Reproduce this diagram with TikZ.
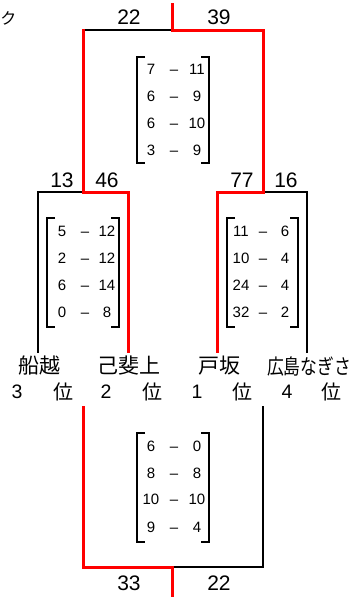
\documentclass[tikz,border=0pt]{standalone}
\usepackage{fontspec}
\setmainfont{Liberation Sans}
\newfontfamily\jp{Noto Sans CJK JP}
\begin{document}
\begin{tikzpicture}[x=1pt,y=-1pt,
  blk/.style={draw=black,line width=1.5pt},
  redl/.style={draw=red,line width=3pt},
  brk/.style={draw=black,line width=1.8pt},
  score/.style={inner sep=0pt,font=\fontsize{21}{21}\selectfont},
  cell/.style={inner sep=0pt,font=\fontsize{15}{15}\selectfont},
  tname/.style={inner sep=0pt,font=\jp\fontsize{21}{21}\selectfont},
  rankn/.style={inner sep=0pt,font=\fontsize{19.5}{19.5}\selectfont},
  rankj/.style={inner sep=0pt,font=\jp\fontsize{20}{20}\selectfont}]
\useasboundingbox (0,0) rectangle (352,597);
% coordinates of the bracket tree
\coordinate (T0) at (172,3);
\coordinate (T) at (172,30);
\coordinate (TL) at (83,30);
\coordinate (TR) at (263,30);
\coordinate (L) at (83,192);
\coordinate (Ll) at (38,192);
\coordinate (Lr) at (128,192);
\coordinate (R) at (263,192);
\coordinate (Rl) at (217,192);
\coordinate (Rr) at (307,192);
\coordinate (A) at (38,353);
\coordinate (B) at (128,353);
\coordinate (C) at (217,353);
\coordinate (D) at (307,353);
\coordinate (BA) at (83,406);
\coordinate (BB) at (263,406);
\coordinate (BL) at (83,567);
\coordinate (BM) at (172,567);
\coordinate (BR) at (263,567);
\coordinate (B0) at (172,597);
% black lines
\draw[blk] (T) -- (TL);
\draw[blk] (A) -- (Ll) -- (L);
\draw[blk] (D) -- (Rr) -- (R);
\draw[blk] (BM) -- (BR) -- (BB);
% red lines
\draw[redl] (T0) -- (T) -- (TR) -- (R) -- (Rl) -- (C);
\draw[redl] ([yshift=0.75pt]TL) -- (L) -- (Lr) -- (B);
\draw[redl] (BA) -- (BL) -- (BM) -- (B0);
% corner text
\node[inner sep=0pt,font=\jp\fontsize{16}{16}\selectfont] (k) at (8.5,18) {ク};
% scores
\node[score] (s1) at (129,17) {22};
\node[score] (s2) at (219,17) {39};
\node[score] (s3) at (62,180) {13};
\node[score] (s4) at (107,180) {46};
\node[score] (s5) at (242,180) {77};
\node[score] (s6) at (286,180) {16};
\node[score] (s7) at (129,583) {33};
\node[score] (s8) at (219,583) {22};
% matrix brackets
\foreach \nm/\xl/\xr/\yt/\yb in {m1/137/209/57/163, m2/47/119/218/327, m3/227/298/218/327, m4/137/209/433/542}{
  \coordinate (\nm a) at (\xl+8,\yt);
  \coordinate (\nm b) at (\xl,\yt);
  \coordinate (\nm c) at (\xl,\yb);
  \coordinate (\nm d) at (\xl+8,\yb);
  \coordinate (\nm e) at (\xr-8,\yt);
  \coordinate (\nm f) at (\xr,\yt);
  \coordinate (\nm g) at (\xr,\yb);
  \coordinate (\nm h) at (\xr-8,\yb);
  \draw[brk] (\nm a) -- (\nm b) -- (\nm c) -- (\nm d);
  \draw[brk] (\nm e) -- (\nm f) -- (\nm g) -- (\nm h);
}
% matrix cells
\foreach \i/\y/\a/\b in {1/69/7/11, 2/96/6/9, 3/123/6/10, 4/150/3/9}{
  \node[cell] (ta\i) at (151,\y) {\a};
  \node[cell] (td\i) at (174,\y) {\vphantom{0}–};
  \node[cell] (tb\i) at (197,\y) {\b};
}
\foreach \i/\y/\a/\b in {1/231/5/12, 2/258/2/12, 3/285/6/14, 4/312/0/8}{
  \node[cell] (la\i) at (62,\y) {\a};
  \node[cell] (ld\i) at (85,\y) {\vphantom{0}–};
  \node[cell] (lb\i) at (107,\y) {\b};
}
\foreach \i/\y/\a/\b in {1/231/11/6, 2/258/10/4, 3/285/24/4, 4/312/32/2}{
  \node[cell] (ra\i) at (241,\y) {\a};
  \node[cell] (rd\i) at (263,\y) {\vphantom{0}–};
  \node[cell] (rb\i) at (285,\y) {\b};
}
\foreach \i/\y/\a/\b in {1/446/6/0, 2/473/8/8, 3/499/10/10, 4/527/9/4}{
  \node[cell] (ba\i) at (151,\y) {\a};
  \node[cell] (bd\i) at (174,\y) {\vphantom{0}–};
  \node[cell] (bb\i) at (197,\y) {\b};
}
% team names
\node[tname] (n1) at (40,366) {船越};
\node[tname] (n2) at (129,366) {己斐上};
\node[tname] (n3) at (219,366) {戸坂};
\node[tname] (n4) at (309,367) {\scalebox{0.8}[1]{広島なぎさ}};
% ranks
\node[rankn] (r1) at (17,392) {3};
\node[rankj] (p1) at (63,392) {位};
\node[rankn] (r2) at (106,392) {2};
\node[rankj] (p2) at (152,392) {位};
\node[rankn] (r3) at (197,392) {1};
\node[rankj] (p3) at (242,392) {位};
\node[rankn] (r4) at (287,392) {4};
\node[rankj] (p4) at (331,392) {位};
\end{tikzpicture}
\end{document}
